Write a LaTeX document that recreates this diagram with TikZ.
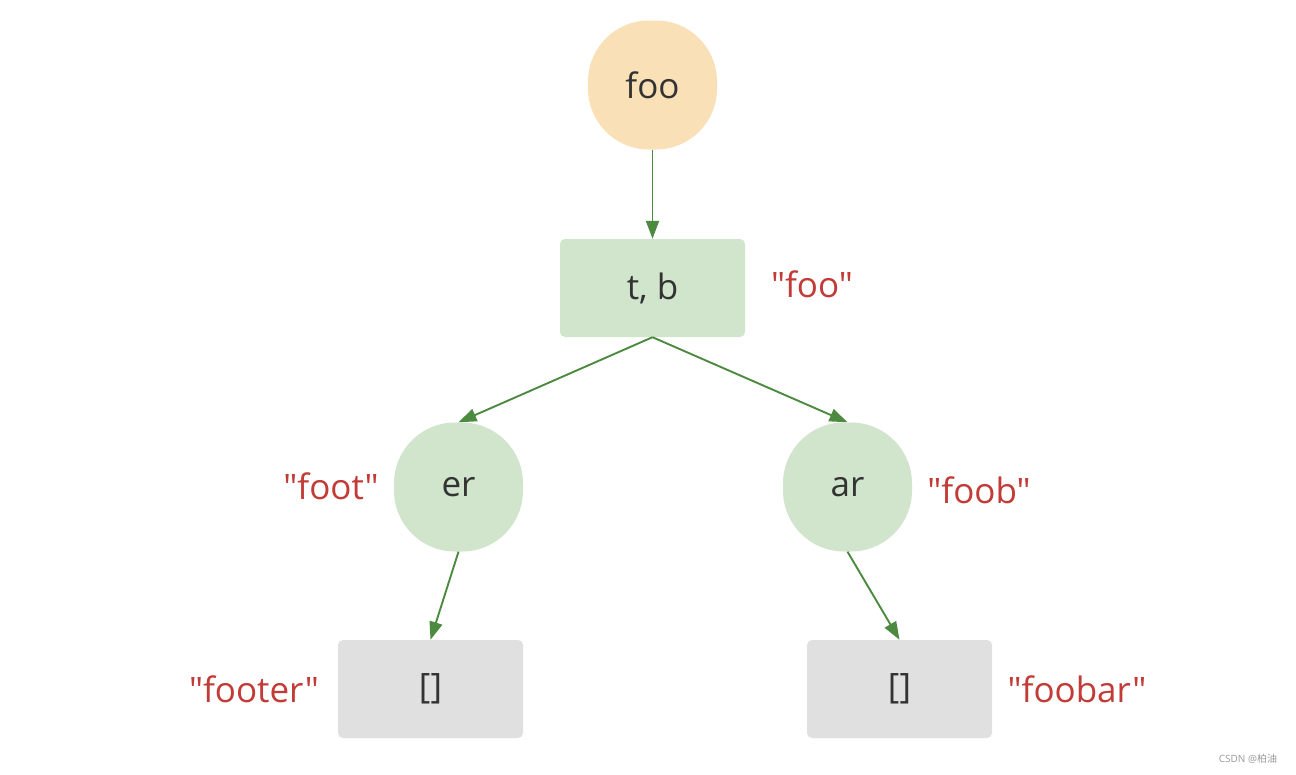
\documentclass[tikz,border=0pt]{standalone}
\usepackage{fontspec}
\setmainfont{Open Sans}[Ligatures=TeXOff]
\newfontfamily\cjkfont{Noto Sans CJK SC}
\usetikzlibrary{arrows.meta}
\definecolor{rootfill}{HTML}{F9E0B7}
\definecolor{greenfill}{HTML}{D0E5CC}
\definecolor{grayfill}{HTML}{E0E0E0}
\definecolor{edgegreen}{HTML}{4C8A40}
\definecolor{labelred}{HTML}{C23B36}
\definecolor{textdark}{HTML}{333333}
\begin{document}
\begin{tikzpicture}[x=1pt,y=-1pt,
  nodetext/.style={text=textdark,font=\fontsize{35}{40}\selectfont},
  blob/.style={nodetext,rounded corners=61pt,minimum width=129pt,minimum height=129pt,inner sep=0pt},
  boxnode/.style={nodetext,rounded corners=5pt,minimum width=185pt,minimum height=98pt,inner sep=0pt},
  lbl/.style={text=labelred,font=\fontsize{35}{40}\selectfont,inner sep=0pt},
  edge/.style={draw=edgegreen,line width=1.9pt,-{Triangle[length=18pt,width=13pt]}}
]
\useasboundingbox (0,0) rectangle (1296,774);
\fill[white] (0,0) rectangle (1296,774);

\node[blob,fill=rootfill] (foo) at (652.5,85) {foo};
\node[boxnode,fill=greenfill] (tb) at (652.5,288) {t, b};
\node[blob,fill=greenfill] (er) at (458.5,487) {er};
\node[blob,fill=greenfill] (ar) at (847.5,487) {ar};
\node[boxnode,fill=grayfill] (lb) at (430.5,689) {[]};
\node[boxnode,fill=grayfill] (rb) at (899.5,689) {[]};

\node[lbl] (lfoo) at (812,284) {"foo"};
\node[lbl] (lfoot) at (331,486) {"foot"};
\node[lbl] (lfoob) at (979,490) {"foob"};
\node[lbl] (lfooter) at (254,689) {"footer"};
\node[lbl] (lfoobar) at (1077,689) {"foobar"};

\draw[edge] (foo.south) -- (tb.north);
\draw[edge] (tb.south) -- (er.north);
\draw[edge] (tb.south) -- (ar.north);
\draw[edge] (er.south) -- (lb.north);
\draw[edge] (ar.south) -- (rb.north);

\node[text=gray!80,font=\fontsize{10}{12}\selectfont,inner sep=0pt] (wm) at (1248,759) {CSDN @{\cjkfont 柏油}};
\end{tikzpicture}
\end{document}
